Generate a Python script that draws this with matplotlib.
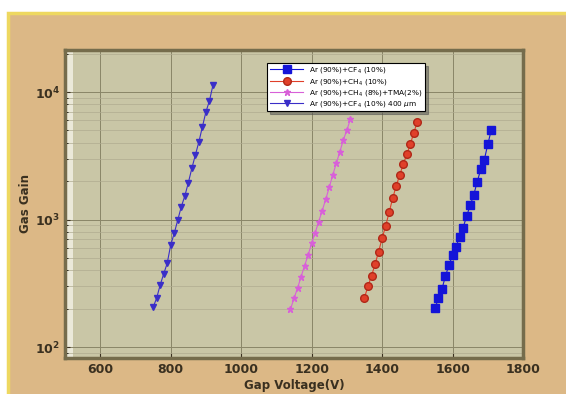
import matplotlib
matplotlib.use("Agg")
import matplotlib.pyplot as plt
from matplotlib.patches import Rectangle

# Gap voltage (V) and gas gain for each gas mixture
v_cf4 = [1550, 1560, 1570, 1580, 1590, 1600, 1610, 1620, 1630, 1640, 1650, 1660, 1670, 1680, 1690, 1700, 1710]
g_cf4 = [201, 241, 285, 362, 440, 527, 612, 733, 863, 1065, 1291, 1556, 1977, 2476, 2930, 3890, 5040]

v_ch4 = [1350, 1360, 1370, 1380, 1390, 1400, 1410, 1420, 1430, 1440, 1450, 1460, 1470, 1480, 1490, 1500]
g_ch4 = [244, 300, 362, 445, 559, 711, 889, 1138, 1466, 1832, 2235, 2710, 3245, 3890, 4800, 5850]

v_tma = [1140, 1150, 1160, 1170, 1180, 1190, 1200, 1210, 1220, 1230, 1240, 1250, 1260, 1270, 1280, 1290, 1300, 1310]
g_tma = [198, 241, 289, 356, 434, 527, 651, 788, 962, 1173, 1440, 1790, 2235, 2760, 3400, 4200, 5040, 6100]

v_400 = [750, 760, 770, 780, 790, 800, 810, 820, 830, 840, 850, 860, 870, 880, 890, 900, 910, 920]
g_400 = [205, 241, 306, 374, 453, 631, 780, 991, 1259, 1527, 1944, 2522, 3206, 4074, 5342, 7000, 8544, 11350]

labels = ["Ar (90%)+CF$_4$ (10%)",
          "Ar (90%)+CH$_4$ (10%)",
          "Ar (90%)+CH$_4$ (8%)+TMA(2%)",
          "Ar (90%)+CF$_4$ (10%) 400 $\\mu$m"]

fig = plt.figure(figsize=(5.66, 3.94), dpi=100)
fig.patch.set_facecolor("white")
# tan panel behind the plot
fig.patches.append(Rectangle((8 / 566, -0.05), 1, 1.05 - 13 / 394, transform=fig.transFigure,
                             facecolor="#dcb886", edgecolor="#eed860", linewidth=2.5, zorder=-10))

ax = fig.add_axes([65 / 566, 1 - 358 / 394, 458 / 566, 308 / 394])
ax.set_facecolor("#c9c6a6")
ax.axvspan(500, 522, color="#f4f2e6", alpha=0.8, zorder=0.5, lw=0)

ax.plot(v_cf4, g_cf4, "-s", color="#1414d8", ms=5.5, lw=0.8, label=labels[0])
ax.plot(v_ch4, g_ch4, "-o", color="#e0402a", mec="#b02818", ms=5.5, lw=0.8, label=labels[1])
ax.plot(v_tma, g_tma, "-*", color="#d860d8", ms=4.5, lw=0.8, label=labels[2])
ax.plot(v_400, g_400, "-v", color="#3a2ec8", ms=5, lw=0.8, label=labels[3])

ax.set_yscale("log")
ax.set_xlim(500, 1800)
ax.set_ylim(82, 21400)
ax.set_xticks([600, 800, 1000, 1200, 1400, 1600, 1800])
ax.grid(True, which="major", color="#8a8668", lw=0.7)
ax.grid(True, which="minor", axis="y", color="#b0ac90", lw=0.5)
ax.tick_params(direction="in", labelsize=9, colors="#3a3020", width=0.8)
ax.tick_params(which="minor", direction="in")
for lab in ax.get_xticklabels() + ax.get_yticklabels():
    lab.set_fontweight("bold")
for s in ax.spines.values():
    s.set_color("#756c4c")
    s.set_linewidth(2.5)

ax.set_xlabel("Gap Voltage(V)", fontsize=8.5, fontweight="bold", color="#3a3020", labelpad=2)
ax.set_ylabel("Gas Gain", fontsize=8.5, fontweight="bold", color="#3a3020", labelpad=2)

leg = ax.legend(loc="upper left", bbox_to_anchor=(0.434, 0.97), fontsize=5.3, frameon=True,
                fancybox=False, shadow=True, borderpad=0.35, labelspacing=0.15, handlelength=4.5)
leg.get_frame().set_edgecolor("black")
leg.get_frame().set_linewidth(0.8)

fig.savefig("out.png", dpi=100)
